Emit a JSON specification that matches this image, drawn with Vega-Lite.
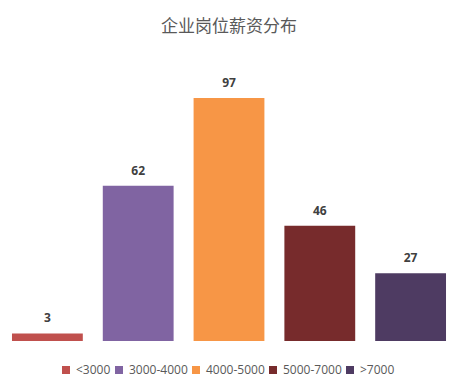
{
  "$schema": "https://vega.github.io/schema/vega-lite/v6.json",
  "autosize": "none",
  "width": 454,
  "height": 243,
  "padding": {"left": 2, "top": 98, "right": 12, "bottom": 46},
  "background": "white",
  "title": {
    "text": "企业岗位薪资分布",
    "font": "Noto Sans CJK SC",
    "fontSize": 17,
    "fontWeight": "normal",
    "color": "#595959",
    "anchor": "middle",
    "offset": 41
  },
  "data": {
    "values": [
      {"range": "<3000", "count": 3},
      {"range": "3000-4000", "count": 62},
      {"range": "4000-5000", "count": 97},
      {"range": "5000-7000", "count": 46},
      {"range": ">7000", "count": 27}
    ]
  },
  "encoding": {
    "x": {
      "field": "range",
      "type": "nominal",
      "sort": null,
      "scale": {"paddingInner": 0.22, "paddingOuter": 0.11},
      "axis": null
    },
    "y": {
      "field": "count",
      "type": "quantitative",
      "scale": {"domain": [0, 97], "nice": false, "zero": true},
      "axis": null
    }
  },
  "layer": [
    {
      "mark": {"type": "bar", "clip": false},
      "encoding": {
        "color": {
          "field": "range",
          "type": "nominal",
          "sort": null,
          "scale": {
            "domain": ["<3000", "3000-4000", "4000-5000", "5000-7000", ">7000"],
            "range": ["#C0504D", "#8064A2", "#F79646", "#772B2C", "#4E3B62"]
          },
          "legend": {
            "orient": "none",
            "legendX": 58,
            "legendY": 266,
            "direction": "horizontal",
            "title": null,
            "symbolType": "square",
            "symbolSize": 64,
            "symbolStrokeWidth": 0,
            "labelFont": "Open Sans",
            "labelFontSize": 12,
            "labelColor": "#595959",
            "columnPadding": 2,
            "labelOffset": 4
          }
        }
      }
    },
    {
      "mark": {
        "type": "text",
        "baseline": "bottom",
        "dy": -8,
        "font": "Open Sans",
        "fontSize": 12,
        "fontWeight": "bold",
        "color": "#404040"
      },
      "encoding": {
        "text": {"field": "count", "type": "quantitative"}
      }
    }
  ],
  "config": {"view": {"stroke": null}}
}
